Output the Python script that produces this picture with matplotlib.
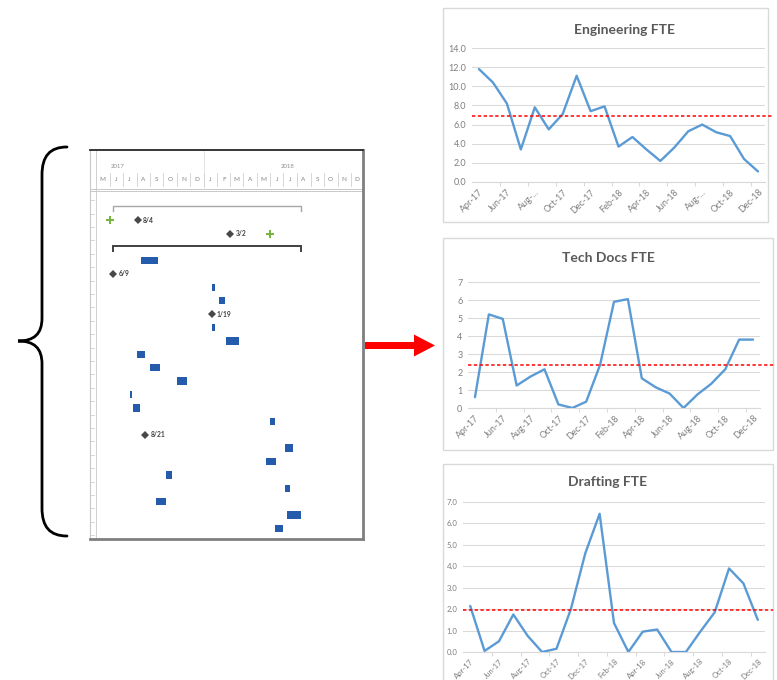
import datetime as dt
import numpy as np
import matplotlib
matplotlib.use('Agg')
import matplotlib.pyplot as plt
import matplotlib.dates as mdates
from matplotlib.path import Path
from matplotlib.patches import PathPatch, FancyArrow, Rectangle
from matplotlib.ticker import FormatStrFormatter

plt.rcParams['font.family'] = ['Lato', 'DejaVu Sans']

W, H = 777, 680

# monthly FTE, Apr-17 .. Dec-18
months = ['Apr-17', 'May-17', 'Jun-17', 'Jul-17', 'Aug-17', 'Sep-17', 'Oct-17',
          'Nov-17', 'Dec-17', 'Jan-18', 'Feb-18', 'Mar-18', 'Apr-18', 'May-18',
          'Jun-18', 'Jul-18', 'Aug-18', 'Sep-18', 'Oct-18', 'Nov-18', 'Dec-18']
eng_fte = [11.8, 10.4, 8.2, 3.4, 7.8, 5.5, 7.1, 11.1, 7.4, 7.9, 3.7, 4.7,
           3.4, 2.2, 3.6, 5.3, 6.0, 5.2, 4.8, 2.4, 1.1]
docs_fte = [0.6, 5.2, 4.95, 1.25, 1.75, 2.15, 0.2, 0.0, 0.35, 2.4, 5.9, 6.05,
            1.65, 1.15, 0.8, 0.0, 0.75, 1.35, 2.15, 3.8, 3.8]
draft_fte = [2.15, 0.05, 0.5, 1.75, 0.75, 0.0, 0.15, 2.0, 4.6, 6.45, 1.35, 0.0,
             0.95, 1.05, 0.0, 0.0, 0.95, 1.85, 3.9, 3.2, 1.5]
eng_target = 6.9
docs_target = 2.4
draft_target = 1.95
eng_labels = [m if not m.startswith('Aug') else 'Aug-...' for m in months[::2]]
std_labels = months[::2]

# gantt schedule
sum_rows = [0, 3]
sum_start = ['2017-06-09', '2017-06-09']
sum_end = ['2018-08-10', '2018-08-10']
sum_color = ['#A6A6A6', '#404040']
ms_rows = [1, 2, 5, 8, 17]
ms_dates = ['2017-08-04', '2018-03-02', '2017-06-09', '2018-01-19', '2017-08-21']
ms_labels = ['8/4', '3/2', '6/9', '1/19', '8/21']
flag_rows = [1, 2]
flag_dates = ['2017-06-02', '2018-06-01']
bar_rows = [4, 6, 7, 9, 10, 11, 12, 13, 14, 15, 16, 18, 19, 20, 21, 22, 23, 24]
bar_start = ['2017-08-11', '2018-01-20', '2018-02-05', '2018-01-20', '2018-02-20',
             '2017-08-02', '2017-09-01', '2017-11-02', '2017-07-16', '2017-07-24',
             '2018-05-31', '2018-07-04', '2018-05-22', '2017-10-07', '2018-07-04',
             '2017-09-15', '2018-07-08', '2018-06-11']
bar_end = ['2017-09-19', '2018-01-26', '2018-02-18', '2018-01-26', '2018-03-21',
           '2017-08-21', '2017-09-24', '2017-11-24', '2017-07-22', '2017-08-09',
           '2018-06-11', '2018-07-22', '2018-06-13', '2017-10-21', '2018-07-17',
           '2017-10-07', '2018-08-10', '2018-07-01']
month_letters = list('MJJASONDJFMAMJJASOND')


def px_box(x0, y0, x1, y1):
    return [x0 / W, 1 - y1 / H, (x1 - x0) / W, (y1 - y0) / H]


def d(s):
    return mdates.date2num(dt.date.fromisoformat(s))


fig = plt.figure(figsize=(W / 100, H / 100), dpi=100)

# background layer: brace, arrow, chart frames
bg = fig.add_axes([0, 0, 1, 1], zorder=0)
bg.set_xlim(0, W)
bg.set_ylim(H, 0)
bg.axis('off')

brace = Path([(67, 147), (50, 147), (42, 156), (42, 175),
              (42, 318),
              (42, 334), (34, 341), (18, 341),
              (34, 341), (42, 348), (42, 364),
              (42, 508),
              (42, 527), (50, 536), (67, 536)],
             [Path.MOVETO, Path.CURVE4, Path.CURVE4, Path.CURVE4,
              Path.LINETO,
              Path.CURVE4, Path.CURVE4, Path.CURVE4,
              Path.CURVE4, Path.CURVE4, Path.CURVE4,
              Path.LINETO,
              Path.CURVE4, Path.CURVE4, Path.CURVE4])
bg.add_patch(PathPatch(brace, fill=False, lw=2.0, color='black', capstyle='round'))
bg.add_patch(FancyArrow(365, 345.5, 70, 0, width=7, head_width=22, head_length=21,
                        length_includes_head=True, color='#FF0000', lw=0))

for (x0, y0, x1, y1) in [(443, 8, 768, 222), (443, 238, 773, 450), (443, 464, 773, 682)]:
    bg.add_patch(Rectangle((x0, y0), x1 - x0, y1 - y0, fill=False, ec='#D9D9D9', lw=1))

# gantt panel
axg = fig.add_axes(px_box(90, 150, 363, 539), zorder=1)
axg.set_xlim(d('2017-04-17'), d('2018-12-29'))
axg.set_ylim(24.78, -4.25)
axg.set_xticks([])
axg.set_yticks([])
axg.spines['top'].set_color('#262626')
axg.spines['top'].set_linewidth(1.3)
for s in ['right', 'bottom']:
    axg.spines[s].set_color('#7F7F7F')
    axg.spines[s].set_linewidth(2)
axg.spines['left'].set_color('#C8C8C8')
axg.spines['left'].set_linewidth(0.8)

x_left = d('2017-05-01')
axg.axvline(x_left, color='#D0D0D0', lw=0.7)
for r in np.arange(-1, 25):
    axg.plot([d('2017-04-17'), d('2017-04-25')], [r + 0.5, r + 0.5], color='#D0D0D0', lw=0.6)
axg.axhline(-1.36, color='#C8C8C8', lw=0.7)
axg.axhline(-1.18, color='#C8C8C8', lw=0.7)
axg.plot([d('2018-01-01')] * 2, [-4.25, -1.36], color='#E0E0E0', lw=0.6)

first = dt.date(2017, 5, 1)
for i, letter in enumerate(month_letters):
    y, m = divmod(first.month - 1 + i, 12)
    start = dt.date(first.year + y, m + 1, 1)
    axg.text(mdates.date2num(start) + 15, -2.05, letter, ha='center', va='center',
             fontsize=4.6, color='#808080')
    if i > 0:
        axg.plot([mdates.date2num(start)] * 2, [-2.5, -1.6], color='#D0D0D0', lw=0.6)
axg.text(d('2017-06-20'), -3.0, '2017', ha='center', va='center', fontsize=4.3, color='#909090')
axg.text(d('2018-07-10'), -3.0, '2018', ha='center', va='center', fontsize=4.3, color='#909090')

for r, s, e, c in zip(sum_rows, sum_start, sum_end, sum_color):
    axg.plot([d(s), d(s), d(e), d(e)], [r + 0.28, r - 0.05, r - 0.05, r + 0.28],
             color=c, lw=1.0 if r == 0 else 1.4, solid_joinstyle='miter')

starts = np.array([d(s) for s in bar_start])
ends = np.array([d(e) for e in bar_end])
axg.barh(bar_rows, ends - starts, left=starts, height=0.55, color='#245CAB')

axg.plot([d(s) for s in flag_dates], flag_rows, 'P', ms=5.2, color='#78B441', mew=0)
axg.plot([d(s) for s in ms_dates], ms_rows, 'D', ms=3.7, color='#484848', mew=0)
for r, s, lab in zip(ms_rows, ms_dates, ms_labels):
    axg.annotate(lab, (d(s), r), xytext=(3.8, 0), textcoords='offset points',
                 ha='left', va='center', fontsize=4.8, fontweight='bold', color='#404040')


def fte_chart(plot, title, title_xy, values, target, ticklabels, ymax, ystep, fmt,
              fs, red_right):
    ax = fig.add_axes(px_box(*plot), zorder=2)
    x = np.arange(len(values))
    ax.plot(x, values, color='#5B9BD5', lw=1.7, solid_joinstyle='round',
            solid_capstyle='round', zorder=3)
    ax.set_xlim(-0.5, len(values) - 0.5)
    ax.set_ylim(0, ymax)
    ax.set_yticks(np.arange(0, ymax + ystep / 2, ystep))
    ax.yaxis.set_major_formatter(FormatStrFormatter(fmt))
    ax.grid(axis='y', color='#D9D9D9', lw=0.75)
    ax.set_axisbelow(True)
    for s in ['top', 'right', 'left']:
        ax.spines[s].set_visible(False)
    ax.spines['bottom'].set_color('#D9D9D9')
    ax.set_xticks(x[::2])
    ax.set_xticklabels(ticklabels, rotation=45, ha='right', rotation_mode='anchor',
                       fontsize=fs, color='#7F7F7F')
    ax.set_xticks(np.arange(1.5, len(values) - 1, 2), minor=True)
    ax.tick_params(axis='x', which='major', length=0, pad=4)
    ax.tick_params(axis='x', which='minor', length=3, color='#D9D9D9', width=0.75)
    ax.tick_params(axis='y', length=0, labelsize=fs, labelcolor='#7F7F7F', pad=4)
    ax.axhline(target, xmin=0, xmax=(red_right - plot[0]) / (plot[2] - plot[0]),
               color='#FF0000', lw=1.1, ls=(0, (2.2, 1.6)), clip_on=False, zorder=4)
    fig.text(title_xy[0] / W, 1 - title_xy[1] / H, title, ha='center', va='center',
             fontsize=10, fontweight='bold', color='#595959')
    return ax


fte_chart((472, 48, 765, 182), 'Engineering FTE', (624, 30), eng_fte, eng_target,
          eng_labels, 14, 2, '%.1f', 6.5, 772)
fte_chart((468, 282, 760, 408), 'Tech Docs FTE', (608, 258), docs_fte, docs_target,
          std_labels, 7, 1, '%d', 6.5, 775)
fte_chart((463, 502, 765, 652), 'Drafting FTE', (608, 482), draft_fte, draft_target,
          std_labels, 7, 1, '%.1f', 5.6, 773)

fig.savefig('out.png', dpi=100)
